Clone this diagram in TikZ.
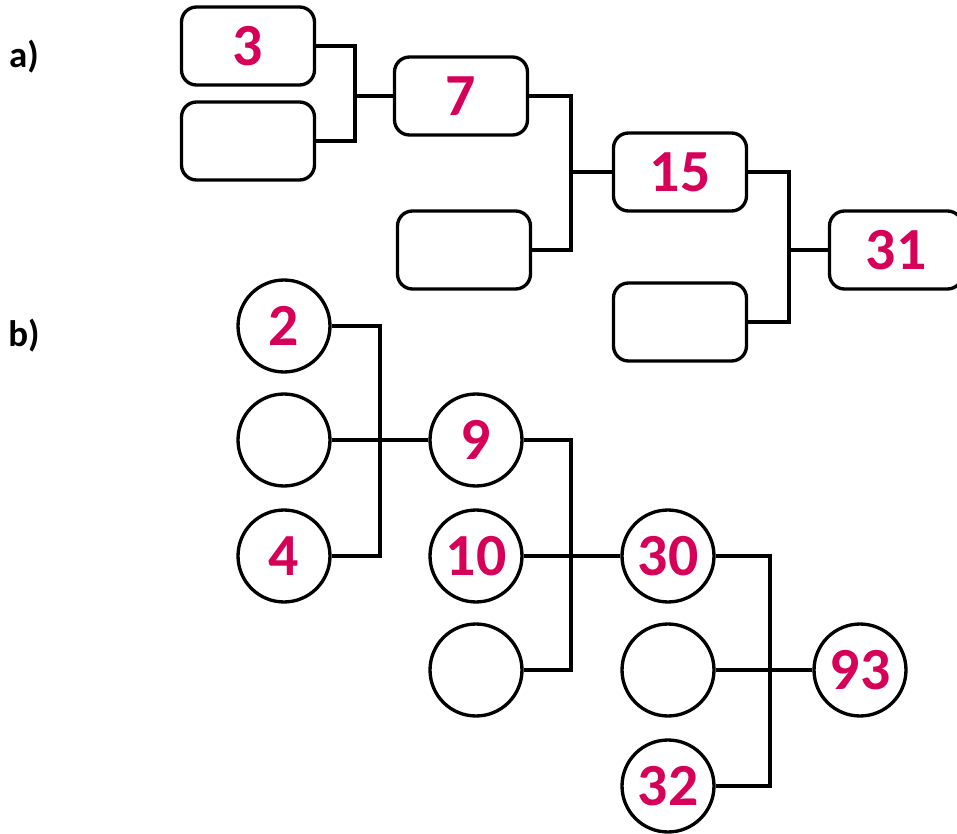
\documentclass[tikz,border=0pt]{standalone}
\usepackage{fontspec}
\setmainfont{Carlito}
\usepackage{xcolor}
\usepackage{tikz}
\definecolor{numred}{RGB}{214,0,88}
\tikzset{
  slot/.style={rectangle, rounded corners=0.3cm, draw, line width=1.9pt, minimum width=2.66cm, minimum height=1.56cm, text=numred, font=\bfseries\fontsize{34}{34}\selectfont},
  ball/.style={circle, draw, line width=1.9pt, minimum size=1.84cm, inner sep=0pt, text=numred, font=\bfseries\fontsize{34}{34}\selectfont},
  wire/.style={line width=1.9pt},
  part/.style={font=\bfseries\fontsize{21}{21}\selectfont}
}

\begin{document}
\begin{tikzpicture}[x=0.02cm, y=-0.02cm]
            \useasboundingbox (0,0) rectangle (957,834);
            \node (la) at (24, 57) [part] {a)};
            \node (lb) at (24, 336) [part] {b)};
            % part a
            \node (a3) at (248, 46) [slot] {3};
            \node (ae1) at (248, 141) [slot] {};
            \node (a7) at (461, 96) [slot] {7};
            \node (ae2) at (464, 250) [slot] {};
            \node (a15) at (680, 172) [slot] {15};
            \node (ae3) at (680, 322) [slot] {};
            \node (a31) at (896, 250) [slot] {31};
            \coordinate (ja1) at (355, 96);
            \coordinate (ja2) at (571, 172);
            \coordinate (ja3) at (789, 250);
            \draw [wire] (a3.east) -| (ja1) |- (ae1.east);
            \draw [wire] (ja1) -- (a7.west);
            \draw [wire] (a7.east) -| (ja2) |- (ae2.east);
            \draw [wire] (ja2) -- (a15.west);
            \draw [wire] (a15.east) -| (ja3) |- (ae3.east);
            \draw [wire] (ja3) -- (a31.west);
            % part b
            \node (b2) at (284, 326) [ball] {2};
            \node (be1) at (284, 440) [ball] {};
            \node (b4) at (284, 556) [ball] {4};
            \node (b9) at (476, 440) [ball] {9};
            \node (b10) at (476, 556) [ball] {10};
            \node (be2) at (476, 670) [ball] {};
            \node (b30) at (668, 556) [ball] {30};
            \node (be3) at (668, 670) [ball] {};
            \node (b32) at (668, 786) [ball] {32};
            \node (b93) at (860, 670) [ball] {93};
            \coordinate (jb1) at (380, 440);
            \coordinate (jb2) at (571, 556);
            \coordinate (jb3) at (770, 670);
            \draw [wire] (b2.east) -| (jb1) |- (b4.east);
            \draw [wire] (be1) -- (b9);
            \draw [wire] (b9.east) -| (jb2) |- (be2.east);
            \draw [wire] (b10) -- (b30);
            \draw [wire] (b30.east) -| (jb3) |- (b32.east);
            \draw [wire] (be3) -- (b93);
        \end{tikzpicture}
\end{document}
